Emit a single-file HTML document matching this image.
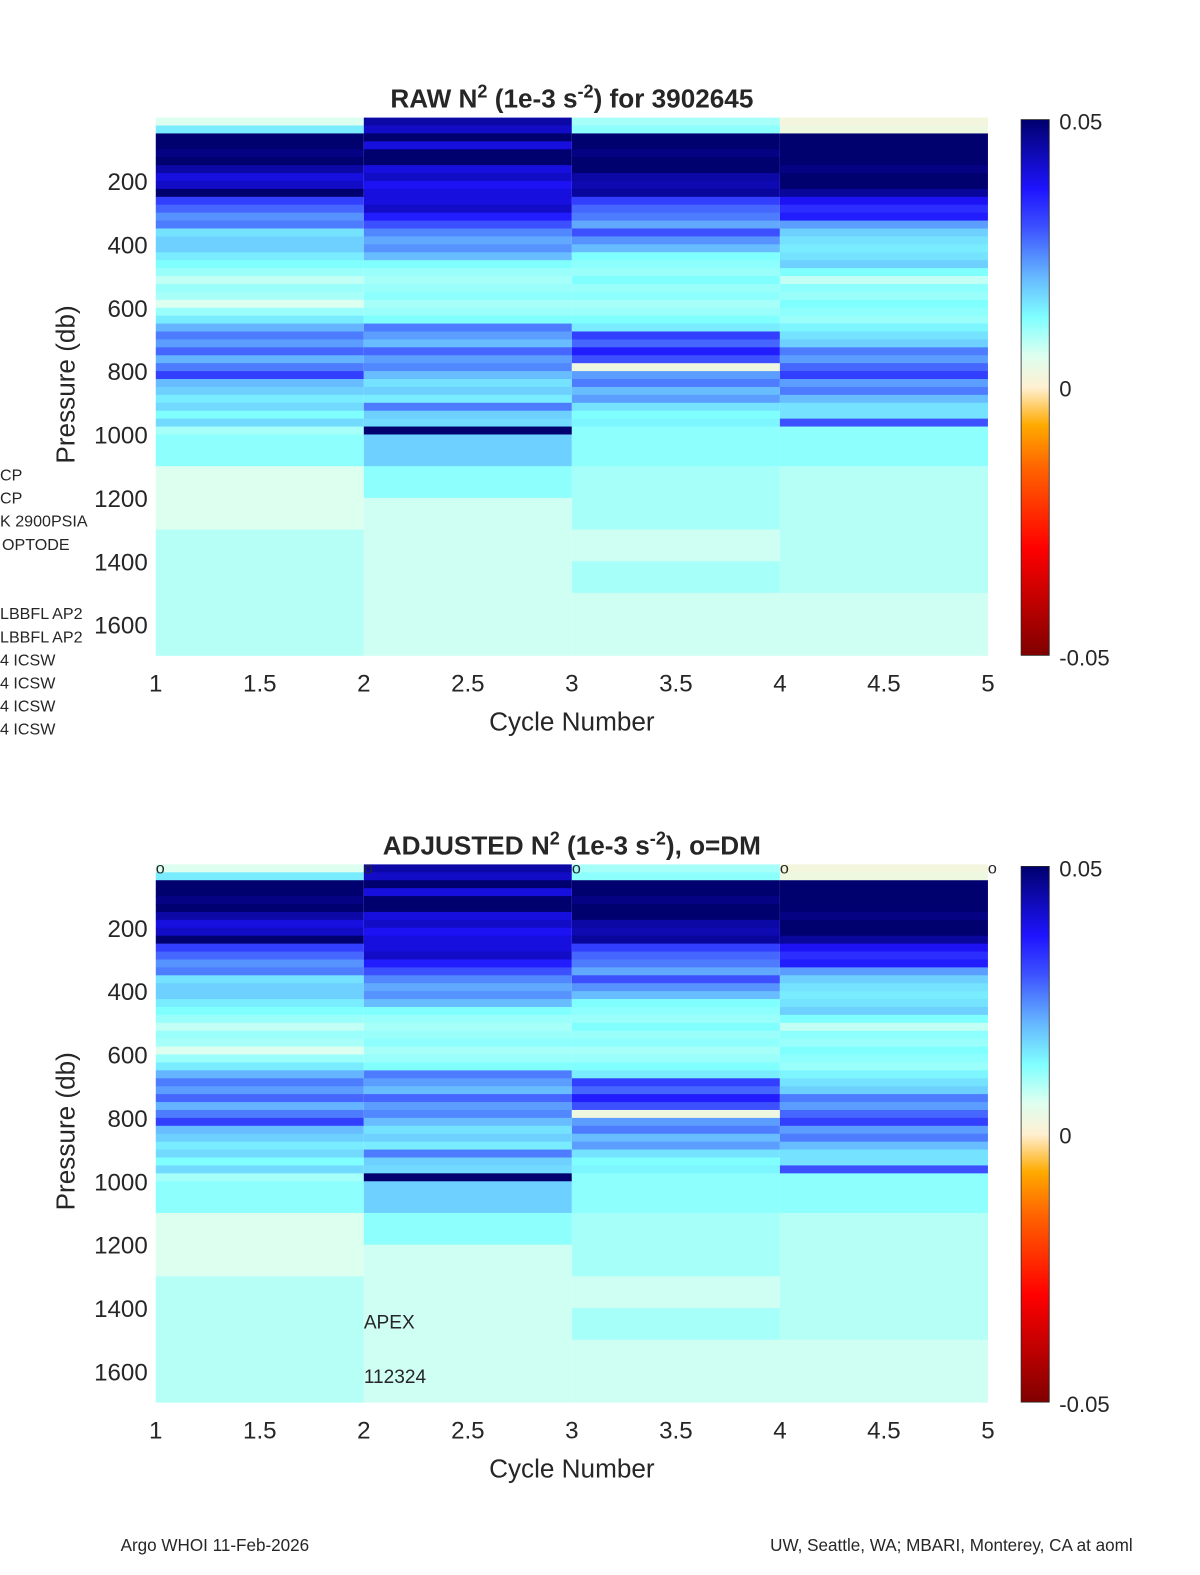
<!DOCTYPE html>
<html style="overflow:hidden;margin:0;width:1200px;height:1575px"><head><meta charset="utf-8"><style>
html,body{margin:0;padding:0;background:#fff;width:1200px;height:1575px;overflow:hidden}
svg{display:block;position:fixed;left:0;top:0;overflow:hidden}
svg text{font-family:"Liberation Sans","DejaVu Sans",sans-serif;fill:#262626}
</style></head><body>
<svg id="fig" width="1200" height="1575" viewBox="0 0 1194 1567" preserveAspectRatio="none" xmlns="http://www.w3.org/2000/svg">
<defs><linearGradient id="cb" x1="0" y1="1" x2="0" y2="0">
<stop offset="0" stop-color="#800000"/><stop offset="0.2" stop-color="#ff0000"/><stop offset="0.35" stop-color="#ff6400"/><stop offset="0.43" stop-color="#ffaa00"/><stop offset="0.5" stop-color="#fff0d2"/><stop offset="0.56" stop-color="#dcfff0"/><stop offset="0.63" stop-color="#80ffff"/><stop offset="0.71" stop-color="#64b4ff"/><stop offset="0.8" stop-color="#3c50ff"/><stop offset="0.87" stop-color="#1e14ff"/><stop offset="1" stop-color="#00006e"/>
</linearGradient></defs>
</svg>
<script>
const cycles=[1,2,3,4];
const binStarts=[0,25,50,75,100,125,150,175,200,225,250,275,300,325,350,375,400,425,450,475,500,525,550,575,600,625,650,675,700,725,750,775,800,825,850,875,900,925,950,975];
const c1=[0.006,0.015,0.05,0.05,0.048,0.05,0.045,0.04,0.042,0.05,0.032,0.028,0.024,0.026,0.016,0.018,0.018,0.015,0.013,0.011,0.008,0.011,0.01,0.006,0.011,0.015,0.021,0.026,0.023,0.028,0.021,0.026,0.032,0.02,0.018,0.015,0.017,0.013,0.017,0.01];
const c2=[0.045,0.042,0.05,0.04,0.05,0.05,0.04,0.042,0.038,0.04,0.04,0.042,0.036,0.03,0.025,0.022,0.024,0.02,0.013,0.011,0.01,0.011,0.012,0.01,0.011,0.013,0.026,0.023,0.02,0.028,0.023,0.025,0.02,0.016,0.018,0.015,0.026,0.018,0.017,0.05];
const c3=[0.01,0.012,0.05,0.05,0.048,0.05,0.05,0.045,0.044,0.046,0.032,0.028,0.026,0.022,0.03,0.024,0.02,0.013,0.012,0.011,0.013,0.011,0.012,0.01,0.011,0.013,0.015,0.032,0.028,0.036,0.03,0.003,0.023,0.026,0.02,0.023,0.016,0.013,0.014,0.012];
const c4=[0.002,0.003,0.05,0.05,0.05,0.05,0.048,0.05,0.05,0.046,0.038,0.034,0.036,0.023,0.018,0.016,0.015,0.016,0.018,0.013,0.008,0.012,0.011,0.013,0.012,0.011,0.014,0.016,0.018,0.026,0.023,0.028,0.032,0.023,0.026,0.02,0.016,0.016,0.03,0.012];
const cycleVals=[c1,c2,c3,c4];
const deepStart=[[1000,1100,1300],[1000,1100,1200],[1000,1100,1300,1400,1500],[1000,1100,1500]];
const deepVals=[[0.012,0.006,0.009],[0.018,0.012,0.007],[0.012,0.01,0.007,0.01,0.007],[0.012,0.009,0.007]];
const xTicks=[1,1.5,2,2.5,3,3.5,4,4.5,5];
const yTicks=[200,400,600,800,1000,1200,1400,1600];
const PMAX=1697;
const stops=[[0,128,0,0],[0.2,255,0,0],[0.35,255,100,0],[0.43,255,170,0],[0.5,255,240,210],[0.56,220,255,240],[0.63,128,255,255],[0.71,100,180,255],[0.8,60,80,255],[0.87,30,20,255],[1,0,0,110]];
function cmap(v){let t=(v+0.05)/0.1;t=Math.max(0,Math.min(1,t));for(let i=1;i<stops.length;i++){if(t<=stops[i][0]){const a=stops[i-1],b=stops[i];const f=(t-a[0])/(b[0]-a[0]);return`rgb(${Math.round(a[1]+f*(b[1]-a[1]))},${Math.round(a[2]+f*(b[2]-a[2]))},${Math.round(a[3]+f*(b[3]-a[3]))})`;}}return'rgb(0,0,110)';}
const NS='http://www.w3.org/2000/svg';const svg=document.getElementById('fig');
function el(t,a,txt){const e=document.createElementNS(NS,t);for(const k in a)e.setAttribute(k,a[k]);if(txt!==undefined)e.textContent=txt;svg.appendChild(e);return e;}
function panel(top,title,dm,name){
 const X0=155,X1=983,Y0=top,Y1=top+535;
 const xs=c=>X0+(c-1)/4*(X1-X0);const ys=p=>Y0+p/PMAX*(Y1-Y0);
 const g=document.createElementNS(NS,'g');svg.appendChild(g);
 
 
 cycles.forEach((c,ci)=>{
  cycleVals[ci].forEach((v,i)=>{const p0=binStarts[i],p1=i+1<binStarts.length?binStarts[i+1]:1000;
   const r=document.createElementNS(NS,'rect');
   r.setAttribute('x',xs(c));r.setAttribute('width',xs(c+1)-xs(c));r.setAttribute('y',ys(p0));r.setAttribute('height',ys(p1)-ys(p0)+0.5);r.setAttribute('fill',cmap(v));
   
   
   g.appendChild(r);});
  deepStart[ci].forEach((p0,i)=>{const p1=i+1<deepStart[ci].length?deepStart[ci][i+1]:PMAX;
   const r=document.createElementNS(NS,'rect');
   r.setAttribute('x',xs(c));r.setAttribute('width',xs(c+1)-xs(c));r.setAttribute('y',ys(p0));r.setAttribute('height',ys(p1)-ys(p0)+0.5);r.setAttribute('fill',cmap(deepVals[ci][i]));
   
   
   g.appendChild(r);});
 });
 xTicks.forEach(t=>{const e=el('text',{x:xs(t),y:Y1+36,'text-anchor':'middle','font-size':24},String(t));
  
  });
 yTicks.forEach(t=>{const e=el('text',{x:147,y:ys(t)+9,'text-anchor':'end','font-size':24},String(t));
  
  });
 const xt=el('text',{x:569,y:Y1+75,'text-anchor':'middle','font-size':26},'Cycle Number');
 
 
 const yt=el('text',{x:0,y:0,'text-anchor':'middle','font-size':26,transform:`translate(74,${(Y0+Y1)/2-2}) rotate(-90)`},'Pressure (db)');
 
 
 const tt=el('text',{x:569,y:Y0-10,'text-anchor':'middle','font-size':26,'font-weight':'bold'});
 tt.innerHTML=title;
 
 
 const cb=el('rect',{x:1016,y:Y0+2,width:28,height:Y1-Y0-2,fill:'url(#cb)',stroke:'#262626','stroke-width':0.8});
 
 
 [['0.05',Y0+12],['0',(Y0+Y1)/2+10],['-0.05',Y1+10]].forEach(a=>{const e=el('text',{x:1054,y:a[1],'font-size':22},a[0]);
  
  });
 if(dm){[1,2,3,4,5].forEach(c=>{const e=el('text',{x:xs(c),y:Y0+9,'font-size':16,'text-anchor':'start'},'o');
  
  });}
}
panel(117,'RAW N<tspan dy="-10" font-size="18">2</tspan><tspan dy="10"> (1e-3 s</tspan><tspan dy="-10" font-size="18">-2</tspan><tspan dy="10">) for 3902645</tspan>',false,'raw');
panel(860,'ADJUSTED N<tspan dy="-10" font-size="18">2</tspan><tspan dy="10"> (1e-3 s</tspan><tspan dy="-10" font-size="18">-2</tspan><tspan dy="10">), o=DM</tspan>',true,'adjusted');
const sideLabels=[['CP',0,478],['CP',0,501],['K 2900PSIA',0,524],['OPTODE',2,547],['LBBFL AP2',0,616],['LBBFL AP2',0,639],['4 ICSW',0,662],['4 ICSW',0,685],['4 ICSW',0,708],['4 ICSW',0,731]];
sideLabels.forEach(s=>{const e=el('text',{x:s[1],y:s[2],'font-size':16,fill:'#000'},s[0]);
 
 });
[['APEX',362,1322],['112324',362,1376]].forEach(s=>{const e=el('text',{x:s[1],y:s[2],'font-size':19},s[0]);
 
 });
const f1=el('text',{x:120,y:1543,'font-size':17},'Argo WHOI 11-Feb-2026');


const f2=el('text',{x:1127,y:1543,'font-size':17,'text-anchor':'end'},'UW, Seattle, WA; MBARI, Monterey, CA at aoml');


</script>
</body></html>
